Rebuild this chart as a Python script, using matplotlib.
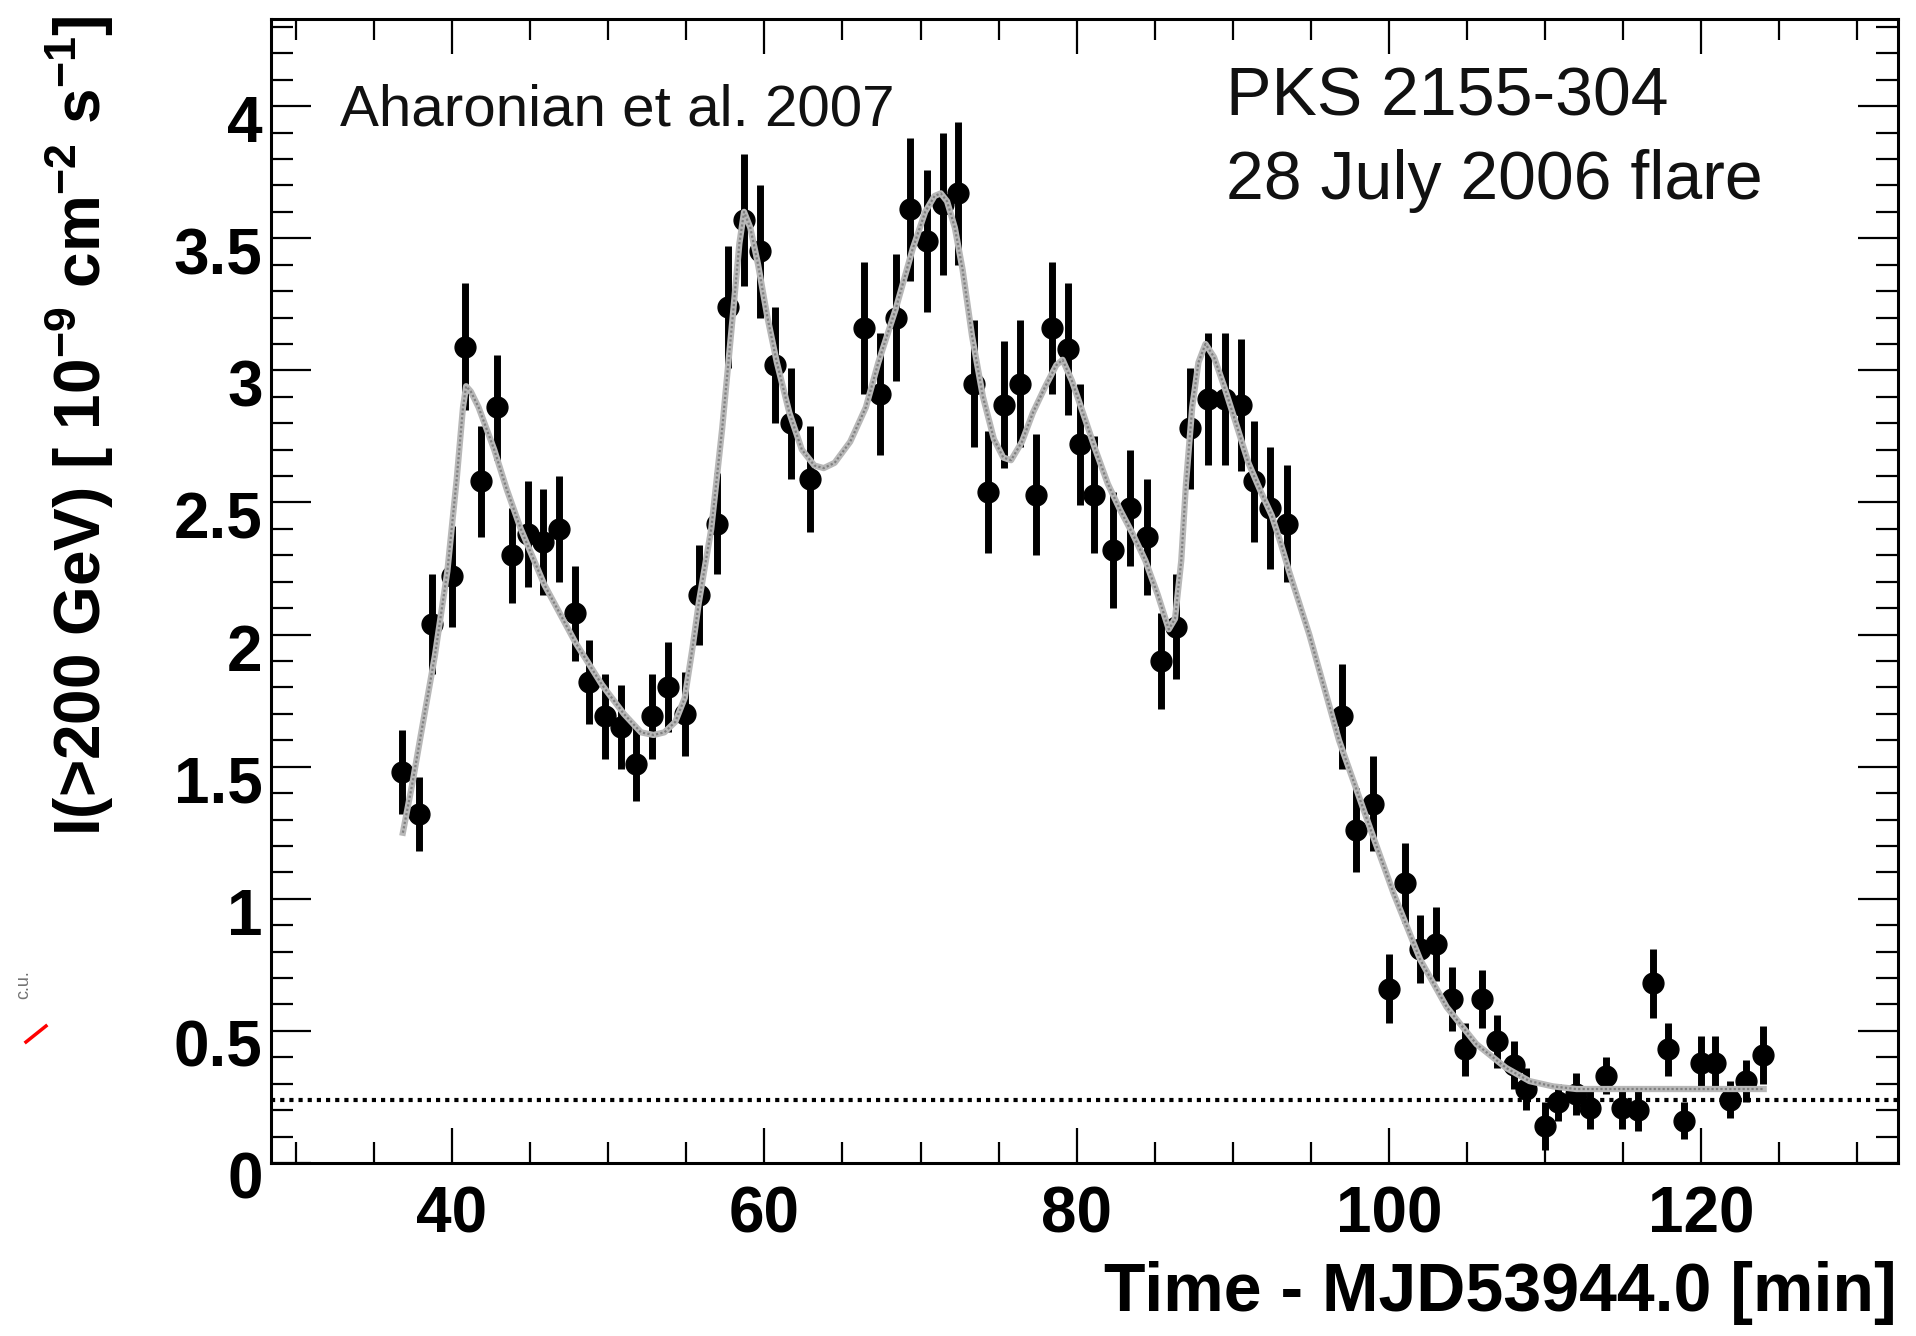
# PKS 2155-304 light curve, 28 July 2006 flare (H.E.S.S.)
# 1-minute binned I(>200 GeV) with the fitted burst profile.

import matplotlib.pyplot as plt
from matplotlib.ticker import FixedLocator, MultipleLocator
import matplotlib.transforms as mtransforms

plt.rcParams['font.family'] = ['Liberation Sans', 'DejaVu Sans']
plt.rcParams['mathtext.fontset'] = 'custom'
plt.rcParams['mathtext.rm'] = 'Liberation Sans'
plt.rcParams['mathtext.bf'] = 'Liberation Sans:bold'

# --- data (time in min after MJD53944.0, flux in 1e-9 cm^-2 s^-1)
time_run1 = [36.8, 37.9, 38.7, 40.0, 40.85, 41.85, 42.85, 43.85, 44.85, 45.85,
             46.85, 47.85, 48.75, 49.8, 50.85, 51.8, 52.8, 53.85, 54.9, 55.8,
             56.95, 57.7, 58.7, 59.7, 60.7, 61.7, 62.9]
flux_run1 = [1.48, 1.32, 2.04, 2.22, 3.09, 2.58, 2.86, 2.30, 2.38, 2.35,
             2.40, 2.08, 1.82, 1.69, 1.65, 1.51, 1.69, 1.80, 1.70, 2.15,
             2.42, 3.24, 3.57, 3.45, 3.02, 2.80, 2.59]
err_run1 = [0.16, 0.14, 0.19, 0.19, 0.24, 0.21, 0.20, 0.18, 0.20, 0.20,
            0.20, 0.18, 0.16, 0.16, 0.16, 0.14, 0.16, 0.17, 0.16, 0.19,
            0.19, 0.23, 0.25, 0.25, 0.22, 0.21, 0.20]

time_run2 = [66.35, 67.4, 68.4, 69.35, 70.4, 71.45, 72.4, 73.4, 74.35, 75.35,
             76.4, 77.4, 78.4, 79.45, 80.2, 81.1, 82.35, 83.4, 84.5, 85.4,
             86.35, 87.25, 88.4, 89.5, 90.5, 91.35, 92.4, 93.45]
flux_run2 = [3.16, 2.91, 3.20, 3.61, 3.49, 3.63, 3.67, 2.95, 2.54, 2.87,
             2.95, 2.53, 3.16, 3.08, 2.72, 2.53, 2.32, 2.48, 2.37, 1.90,
             2.03, 2.78, 2.89, 2.89, 2.87, 2.58, 2.48, 2.42]
err_run2 = [0.25, 0.23, 0.24, 0.27, 0.27, 0.27, 0.27, 0.24, 0.23, 0.24,
            0.24, 0.23, 0.25, 0.25, 0.23, 0.22, 0.22, 0.22, 0.22, 0.18,
            0.20, 0.23, 0.25, 0.25, 0.25, 0.23, 0.23, 0.22]

time_run3 = [97.0, 97.9, 98.95, 100.0, 101.0, 102.0, 103.0, 104.05, 104.9, 105.95,
             106.95, 108.0, 108.75, 110.0, 110.8, 112.0, 112.9, 113.9, 114.9, 115.95,
             116.9, 117.9, 118.9, 120.0, 120.9, 121.85, 122.85, 123.95]
flux_run3 = [1.69, 1.26, 1.36, 0.66, 1.06, 0.81, 0.83, 0.62, 0.43, 0.62,
             0.46, 0.37, 0.28, 0.14, 0.23, 0.26, 0.21, 0.33, 0.21, 0.20,
             0.68, 0.43, 0.16, 0.38, 0.38, 0.24, 0.31, 0.41]
err_run3 = [0.20, 0.16, 0.18, 0.13, 0.15, 0.13, 0.14, 0.12, 0.10, 0.11,
            0.10, 0.09, 0.08, 0.09, 0.07, 0.08, 0.08, 0.07, 0.08, 0.08,
            0.13, 0.10, 0.07, 0.10, 0.10, 0.07, 0.08, 0.11]

# fitted profile
fit_time = [36.85, 37.5, 38.0, 38.9, 39.7, 40.3, 40.7, 40.9, 41.2, 41.7,
            42.7, 43.5, 44.4, 45.9, 47.9, 49.6, 51.0, 52.1, 52.9, 53.6,
            54.3, 54.9, 55.4, 55.8, 56.6, 57.3, 58.0, 58.4, 58.7, 59.1,
            59.6, 60.2, 60.8, 61.6, 62.4, 63.2, 63.8, 64.5, 65.5, 66.5,
            67.3, 68.4, 69.5, 70.3, 70.9, 71.3, 71.7, 72.2, 72.7, 73.3,
            74.0, 74.7, 75.3, 75.8, 76.5, 77.2, 78.0, 78.7, 79.1, 79.7,
            80.4, 81.2, 82.0, 82.8, 83.6, 84.4, 85.2, 85.9, 86.3, 86.7,
            87.0, 87.4, 87.8, 88.25, 88.8, 89.5, 90.2, 91.0, 91.8, 92.5,
            93.1, 93.6, 94.9, 96.8, 98.9, 100.3, 102.0, 103.7, 105.6, 107.5,
            109.0, 110.5, 112.0, 114.0, 116.0, 118.0, 120.0, 122.0, 124.0]
fit_flux = [1.25, 1.45, 1.62, 1.92, 2.24, 2.59, 2.86, 2.94, 2.92, 2.86,
            2.70, 2.55, 2.40, 2.19, 1.97, 1.81, 1.70, 1.63, 1.62, 1.63,
            1.67, 1.76, 1.95, 2.12, 2.40, 2.78, 3.22, 3.48, 3.60, 3.54,
            3.40, 3.20, 3.03, 2.84, 2.70, 2.64, 2.63, 2.65, 2.73, 2.86,
            3.03, 3.23, 3.46, 3.60, 3.66, 3.67, 3.64, 3.54, 3.38, 3.13,
            2.90, 2.74, 2.67, 2.66, 2.73, 2.84, 2.94, 3.02, 3.04, 2.96,
            2.84, 2.70, 2.57, 2.47, 2.38, 2.28, 2.15, 2.02, 2.06, 2.28,
            2.57, 2.86, 3.03, 3.10, 3.05, 2.93, 2.80, 2.65, 2.54, 2.45,
            2.34, 2.24, 2.00, 1.60, 1.25, 1.02, 0.77, 0.59, 0.45, 0.36,
            0.31, 0.29, 0.28, 0.28, 0.28, 0.28, 0.28, 0.28, 0.28]

crab_level = 0.24

x_ticks = [40, 60, 80, 100, 120]
y_ticks = [0, 0.5, 1, 1.5, 2, 2.5, 3, 3.5, 4]
y_tick_labels = ['0', '0.5', '1', '1.5', '2', '2.5', '3', '3.5', '4']


def main():
    fig = plt.figure(figsize=(19.16, 13.36), dpi=100)
    ax = fig.add_axes([0.1414, 0.1295, 0.8492, 0.8563])

    ax.axhline(crab_level, color='black', ls=(0, (1.0, 1.2)), lw=3.0, zorder=2)

    for t, f, e in [(time_run1, flux_run1, err_run1),
                    (time_run2, flux_run2, err_run2),
                    (time_run3, flux_run3, err_run3)]:
        ax.errorbar(t, f, yerr=e, fmt='o', color='black', ms=15,
                    elinewidth=5, capsize=0, zorder=3)

    # grey fit curve: light body with a speckled darker core
    ax.plot(fit_time, fit_flux, color='0.72', lw=4.5, zorder=4)
    ax.plot(fit_time, fit_flux, color='0.5', lw=1.6, ls=(0, (1, 1)), zorder=5)

    ax.set_xlim(28.4, 132.6)
    ax.set_ylim(0, 4.33)

    ax.xaxis.set_major_locator(FixedLocator(x_ticks))
    ax.xaxis.set_minor_locator(MultipleLocator(5))
    ax.yaxis.set_major_locator(FixedLocator(y_ticks))
    ax.yaxis.set_minor_locator(MultipleLocator(0.1))
    ax.set_yticklabels(y_tick_labels)

    ax.tick_params(which='both', direction='in', top=True, right=True,
                   width=1.6, colors='black')
    ax.xaxis.set_tick_params(which='major', length=25, pad=16)
    ax.xaxis.set_tick_params(which='minor', length=15)
    ax.yaxis.set_tick_params(which='major', length=29, pad=6)
    ax.yaxis.set_tick_params(which='minor', length=16)

    for lab in ax.get_xticklabels() + ax.get_yticklabels():
        lab.set_fontsize(46)
        lab.set_fontweight('bold')

    # labels sit a bit below their ticks in the original
    shift = mtransforms.ScaledTranslation(0, -9 / 72, fig.dpi_scale_trans)
    for lab in ax.get_yticklabels():
        lab.set_transform(lab.get_transform() + shift)

    for sp in ax.spines.values():
        sp.set_linewidth(2.2)

    fig.text(79 / 1916, 1 - 15 / 1336,
             r'I(>200 GeV) [ 10$^{\mathbf{-9}}$ cm$^{\mathbf{-2}}$ s$^{\mathbf{-1}}$]',
             rotation=90, ha='center', va='top', fontsize=46, fontweight='bold')
    fig.text(1897 / 1916, 1 - 1293 / 1336, 'Time - MJD53944.0 [min]',
             ha='right', va='center', fontsize=49, fontweight='bold')

    fig.text(340 / 1916, 1 - 110 / 1336, 'Aharonian et al. 2007',
             ha='left', va='center', fontsize=42, color='#111111')
    fig.text(1226 / 1916, 1 - 98 / 1336, 'PKS 2155-304',
             ha='left', va='center', fontsize=49, color='#111111')
    fig.text(1226 / 1916, 1 - 181 / 1336, '28 July 2006 flare',
             ha='left', va='center', fontsize=49, color='#111111')

    # leftover from the neighbouring panel in the source figure
    fig.lines.append(plt.Line2D([26 / 1916, 46 / 1916],
                                [1 - 1042 / 1336, 1 - 1026 / 1336],
                                transform=fig.transFigure, color='red', lw=2.5))
    fig.text(24 / 1916, 1 - 985 / 1336, 'c.u.', rotation=90,
             ha='center', va='center', fontsize=13, color='0.45')

    fig.savefig('out.png', dpi=100)


if __name__ == '__main__':
    main()
